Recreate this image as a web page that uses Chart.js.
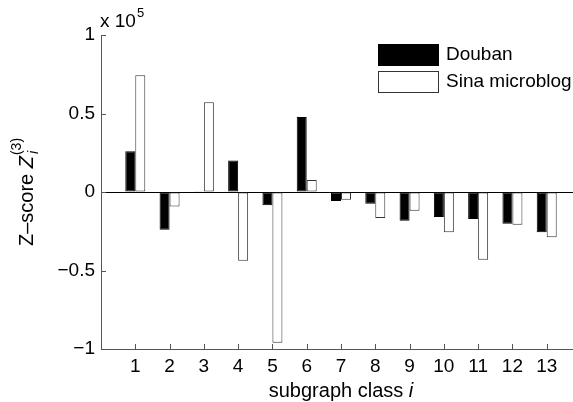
<!DOCTYPE html>
<html>
<head>
<meta charset="utf-8">
<script src="https://cdn.jsdelivr.net/npm/chart.js@4/dist/chart.umd.min.js"></script>
<style>
  html, body { margin: 0; padding: 0; background: #fff; overflow: hidden; }
  #wrap { width: 600px; height: 402px; }
</style>
</head>
<body>
<div id="wrap"><canvas id="zchart" width="600" height="402"></canvas></div>
<script>
// subgraph classes and their Z-scores (units of 1e5)
const classes = [1, 2, 3, 4, 5, 6, 7, 8, 9, 10, 11, 12, 13]
const doubanZ = [0.26, -0.24, 0.004, 0.20, -0.085, 0.478, -0.057, -0.075, -0.183, -0.159, -0.172, -0.202, -0.257]
const sinaZ = [0.743, -0.092, 0.571, -0.438, -0.96, 0.076, -0.049, -0.166, -0.119, -0.257, -0.431, -0.209, -0.289]
const yTickValues = [-1, -0.5, 0, 0.5, 1]
const yTickLabels = ['\u22121', '\u22120.5', '0', '0.5', '1']

const FONT = '"Liberation Sans", Arial, Helvetica, sans-serif'
const AXIS_GREY = '#555'

const toPoints = function (vals) {
  return classes.map((c, i) => ({ x: c, y: vals[i] }))
}

// inward tick marks, the "x 10^5" multiplier, axis titles and the legend
const decorations = {
  id: 'decorations',
  afterDatasetsDraw(chart) {
    const ctx = chart.ctx
    const area = chart.chartArea
    const xs = chart.scales.x
    const ys = chart.scales.y
    ctx.save()
    ctx.strokeStyle = AXIS_GREY
    ctx.lineWidth = 1
    ctx.beginPath()
    classes.forEach(c => {
      const px = Math.round(xs.getPixelForValue(c)) + 0.5
      ctx.moveTo(px, area.bottom)
      ctx.lineTo(px, area.bottom - 5)
    })
    yTickValues.forEach(v => {
      const py = Math.round(ys.getPixelForValue(v)) + 0.5
      ctx.moveTo(area.left, py)
      ctx.lineTo(area.left + 5, py)
    })
    ctx.stroke()

    ctx.fillStyle = '#000'
    ctx.textBaseline = 'alphabetic'
    ctx.textAlign = 'left'
    // multiplier above the y axis
    ctx.font = '19px ' + FONT
    ctx.fillText('x 10', area.left - 1, 27)
    const w10 = ctx.measureText('x 10').width
    ctx.font = '13px ' + FONT
    ctx.fillText('5', area.left - 1 + w10 + 1, 17)

    // x title: subgraph class i
    const cx = (area.left + area.right) / 2
    ctx.font = '20px ' + FONT
    const part1 = 'subgraph class '
    const w1 = ctx.measureText(part1).width
    ctx.font = 'italic 20px ' + FONT
    const w2 = ctx.measureText('i').width
    let sx = cx - (w1 + w2) / 2
    ctx.font = '20px ' + FONT
    ctx.fillText(part1, sx, 397)
    ctx.font = 'italic 20px ' + FONT
    ctx.fillText('i', sx + w1, 397)

    // y title: Z-score Z_i^(3), rotated
    ctx.translate(33, (area.top + area.bottom) / 2)
    ctx.rotate(-Math.PI / 2)
    ctx.font = '20px ' + FONT
    const a = 'Z\u2013score '
    const wa = ctx.measureText(a).width
    ctx.font = 'italic 20px ' + FONT
    const wz = ctx.measureText('Z').width
    ctx.font = '14px ' + FONT
    const wsup = ctx.measureText('(3)').width
    const total = wa + wz + wsup + 1
    let tx = -total / 2
    ctx.font = '20px ' + FONT
    ctx.fillText(a, tx, 0)
    tx += wa
    ctx.font = 'italic 20px ' + FONT
    ctx.fillText('Z', tx, 0)
    tx += wz + 1
    ctx.font = 'italic 14px ' + FONT
    ctx.fillText('i', tx + 1, 5)
    ctx.font = '14px ' + FONT
    ctx.fillText('(3)', tx, -12)
    ctx.setTransform(1, 0, 0, 1, 0, 0)

    // legend
    const boxes = [[378, 44], [378, 71]]
    chart.data.datasets.forEach((ds, i) => {
      const [bx, by] = boxes[i]
      ctx.fillStyle = ds.backgroundColor
      ctx.fillRect(bx, by, 60, 21)
      ctx.strokeStyle = ds.borderColor
      ctx.lineWidth = 1
      ctx.strokeRect(bx + 0.5, by + 0.5, 60, 21)
      ctx.fillStyle = '#000'
      ctx.font = '19px ' + FONT
      ctx.textBaseline = 'middle'
      ctx.fillText(ds.label, 446, by + 11)
    })
    ctx.restore()
  }
}

const ctx = document.getElementById('zchart')
const zChart = new Chart(ctx, {
  type: 'bar',
  data: {
    datasets: [{
      label: 'Douban',
      data: toPoints(doubanZ),
      backgroundColor: '#000',
      borderColor: '#000',
      borderWidth: 1,
      borderSkipped: false
    }, {
      label: 'Sina microblog',
      data: toPoints(sinaZ),
      backgroundColor: '#fff',
      borderColor: '#333',
      borderWidth: 1,
      borderSkipped: false
    }]
  },
  options: {
    responsive: false,
    animation: false,
    categoryPercentage: 0.583,
    barPercentage: 1.0,
    layout: { padding: { top: 35, right: 19, left: 0, bottom: 0 } },
    plugins: {
      legend: { display: false },
      tooltip: { enabled: false }
    },
    scales: {
      x: {
        type: 'linear',
        min: 0,
        max: 14,
        offset: false,
        grid: { display: false, drawTicks: false, offset: false },
        border: { display: true, color: AXIS_GREY, width: 1 },
        ticks: {
          stepSize: 1,
          autoSkip: false,
          maxRotation: 0,
          padding: 6,
          color: '#000',
          font: { family: FONT, size: 19 },
          callback: v => (classes.includes(v) ? String(v) : '')
        },
        afterFit: scale => { scale.height = 53 }
      },
      y: {
        min: -1,
        max: 1,
        grid: {
          drawTicks: false,
          color: c => (c.tick && c.tick.value === 0 ? '#000' : 'rgba(0,0,0,0)'),
          lineWidth: 1
        },
        border: { display: true, color: AXIS_GREY, width: 1 },
        ticks: {
          stepSize: 0.5,
          padding: 6,
          color: '#000',
          font: { family: FONT, size: 19 },
          callback: v => {
            const k = yTickValues.indexOf(v)
            return k >= 0 ? yTickLabels[k] : ''
          }
        },
        afterFit: scale => { scale.width = 101 }
      }
    }
  },
  plugins: [decorations]
})
</script>
</body>
</html>
